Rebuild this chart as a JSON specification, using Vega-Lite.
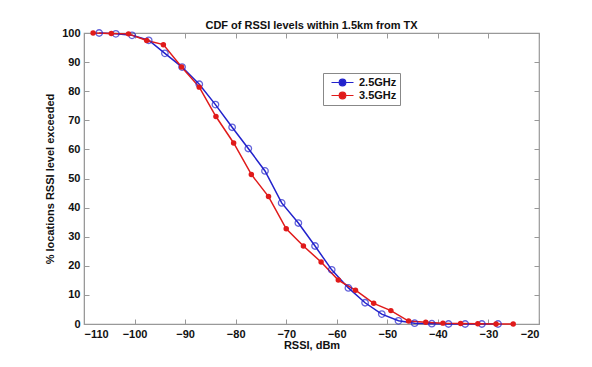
{
  "$schema": "https://vega.github.io/schema/vega-lite/v6.json",
  "autosize": {"type": "none"},
  "width": 455,
  "height": 291,
  "padding": {"left": 84, "top": 33, "right": 53, "bottom": 43},
  "background": "white",
  "title": {"text": "CDF of RSSI levels within 1.5km from TX", "font": "Liberation Sans", "fontSize": 11, "fontWeight": "bold", "color": "#111", "anchor": "middle", "offset": -4},
  "config": {
    "view": {"stroke": "#999", "strokeWidth": 1.2},
    "axis": {"grid": false, "domainColor": "#999", "tickColor": "#999", "tickSize": -5, "labelFont": "Liberation Sans", "labelFontSize": 11, "labelFontWeight": "bold", "labelColor": "#111", "titleFont": "Liberation Sans", "titleFontSize": 11, "titleFontWeight": "bold", "titleColor": "#111"}
  },
  "data": {"values": [
    {"rssi": -107.0, "pct": 100, "band": "2.5GHz"},
    {"rssi": -103.7, "pct": 99.7, "band": "2.5GHz"},
    {"rssi": -100.5, "pct": 99.2, "band": "2.5GHz"},
    {"rssi": -97.2, "pct": 97.5, "band": "2.5GHz"},
    {"rssi": -94.0, "pct": 93.0, "band": "2.5GHz"},
    {"rssi": -90.6, "pct": 88.3, "band": "2.5GHz"},
    {"rssi": -87.2, "pct": 82.4, "band": "2.5GHz"},
    {"rssi": -84.0, "pct": 75.4, "band": "2.5GHz"},
    {"rssi": -80.7, "pct": 67.6, "band": "2.5GHz"},
    {"rssi": -77.5, "pct": 60.3, "band": "2.5GHz"},
    {"rssi": -74.2, "pct": 52.6, "band": "2.5GHz"},
    {"rssi": -70.9, "pct": 41.6, "band": "2.5GHz"},
    {"rssi": -67.6, "pct": 34.7, "band": "2.5GHz"},
    {"rssi": -64.3, "pct": 26.8, "band": "2.5GHz"},
    {"rssi": -61.0, "pct": 18.6, "band": "2.5GHz"},
    {"rssi": -57.7, "pct": 12.4, "band": "2.5GHz"},
    {"rssi": -54.4, "pct": 7.3, "band": "2.5GHz"},
    {"rssi": -51.1, "pct": 3.4, "band": "2.5GHz"},
    {"rssi": -47.8, "pct": 1.1, "band": "2.5GHz"},
    {"rssi": -44.6, "pct": 0.3, "band": "2.5GHz"},
    {"rssi": -41.2, "pct": 0.1, "band": "2.5GHz"},
    {"rssi": -37.9, "pct": 0, "band": "2.5GHz"},
    {"rssi": -34.6, "pct": 0, "band": "2.5GHz"},
    {"rssi": -31.3, "pct": 0, "band": "2.5GHz"},
    {"rssi": -28.1, "pct": 0, "band": "2.5GHz"},
    {"rssi": -108.2, "pct": 100, "band": "3.5GHz"},
    {"rssi": -104.6, "pct": 99.8, "band": "3.5GHz"},
    {"rssi": -101.2, "pct": 99.7, "band": "3.5GHz"},
    {"rssi": -97.6, "pct": 97.4, "band": "3.5GHz"},
    {"rssi": -94.3, "pct": 96.0, "band": "3.5GHz"},
    {"rssi": -90.7, "pct": 88.3, "band": "3.5GHz"},
    {"rssi": -87.2, "pct": 81.4, "band": "3.5GHz"},
    {"rssi": -83.9, "pct": 71.3, "band": "3.5GHz"},
    {"rssi": -80.4, "pct": 62.2, "band": "3.5GHz"},
    {"rssi": -76.9, "pct": 51.4, "band": "3.5GHz"},
    {"rssi": -73.5, "pct": 43.8, "band": "3.5GHz"},
    {"rssi": -70.0, "pct": 32.7, "band": "3.5GHz"},
    {"rssi": -66.6, "pct": 26.8, "band": "3.5GHz"},
    {"rssi": -63.1, "pct": 21.3, "band": "3.5GHz"},
    {"rssi": -59.7, "pct": 15.1, "band": "3.5GHz"},
    {"rssi": -56.3, "pct": 11.6, "band": "3.5GHz"},
    {"rssi": -52.7, "pct": 7.1, "band": "3.5GHz"},
    {"rssi": -49.3, "pct": 4.6, "band": "3.5GHz"},
    {"rssi": -45.8, "pct": 1.0, "band": "3.5GHz"},
    {"rssi": -42.4, "pct": 0.6, "band": "3.5GHz"},
    {"rssi": -39.0, "pct": 0.3, "band": "3.5GHz"},
    {"rssi": -35.5, "pct": 0.2, "band": "3.5GHz"},
    {"rssi": -32.1, "pct": 0.1, "band": "3.5GHz"},
    {"rssi": -28.5, "pct": 0, "band": "3.5GHz"},
    {"rssi": -25.1, "pct": 0, "band": "3.5GHz"}
  ]},
  "resolve": {"axis": {"x": "independent", "y": "independent"}},
  "layer": [
    {
      "mark": {"type": "line", "strokeWidth": 1.5},
      "encoding": {
        "x": {"field": "rssi", "type": "quantitative", "scale": {"domain": [-110, -20], "nice": false}, "axis": {"title": "RSSI, dBm", "values": [-110, -100, -90, -80, -70, -60, -50, -40, -30, -20], "labelPadding": 9, "titlePadding": 0}},
        "y": {"field": "pct", "type": "quantitative", "scale": {"domain": [0, 100], "nice": false}, "axis": {"title": "% locations RSSI level exceeded", "values": [0, 10, 20, 30, 40, 50, 60, 70, 80, 90, 100], "labelPadding": 9, "titlePadding": 6}},
        "color": {"field": "band", "type": "nominal", "scale": {"domain": ["2.5GHz", "3.5GHz"], "range": ["#2222cc", "#e01a1a"]},
          "legend": {"title": null, "orient": "none", "legendX": 239, "legendY": 40, "direction": "vertical", "fillColor": "white", "strokeColor": "#888", "padding": 3, "rowPadding": 0, "symbolType": "M-2,0L-0.6,0M0.6,0L2,0M-0.6,0A0.6,0.6 0 1,1 0.6,0A0.6,0.6 0 1,1 -0.6,0", "symbolSize": 121, "symbolStrokeWidth": 1.2, "symbolOffset": 10, "labelFont": "Liberation Sans", "labelFontSize": 11, "labelFontWeight": "bold", "labelColor": "#111", "labelOffset": 10,
            "encoding": {"symbols": {"fill": {"condition": {"test": "datum.value === '3.5GHz'", "value": "#e01a1a"}, "value": "white"}, "fillOpacity": {"value": 1}}}}}
      }
    },
    {
      "mark": {"type": "point", "shape": "circle", "size": 42, "strokeWidth": 1.3, "filled": false},
      "transform": [{"filter": "datum.band === '2.5GHz'"}],
      "encoding": {
        "x": {"field": "rssi", "type": "quantitative", "axis": {"orient": "top", "labels": false, "title": null, "domain": false, "values": [-110, -100, -90, -80, -70, -60, -50, -40, -30, -20]}},
        "y": {"field": "pct", "type": "quantitative", "axis": {"orient": "right", "labels": false, "title": null, "domain": false, "values": [0, 10, 20, 30, 40, 50, 60, 70, 80, 90, 100]}},
        "color": {"field": "band", "type": "nominal", "legend": null}
      }
    },
    {
      "mark": {"type": "point", "shape": "circle", "size": 30, "filled": true, "opacity": 1},
      "transform": [{"filter": "datum.band === '3.5GHz'"}],
      "encoding": {
        "x": {"field": "rssi", "type": "quantitative", "axis": null},
        "y": {"field": "pct", "type": "quantitative", "axis": null},
        "color": {"field": "band", "type": "nominal", "legend": null}
      }
    }
  ]
}
